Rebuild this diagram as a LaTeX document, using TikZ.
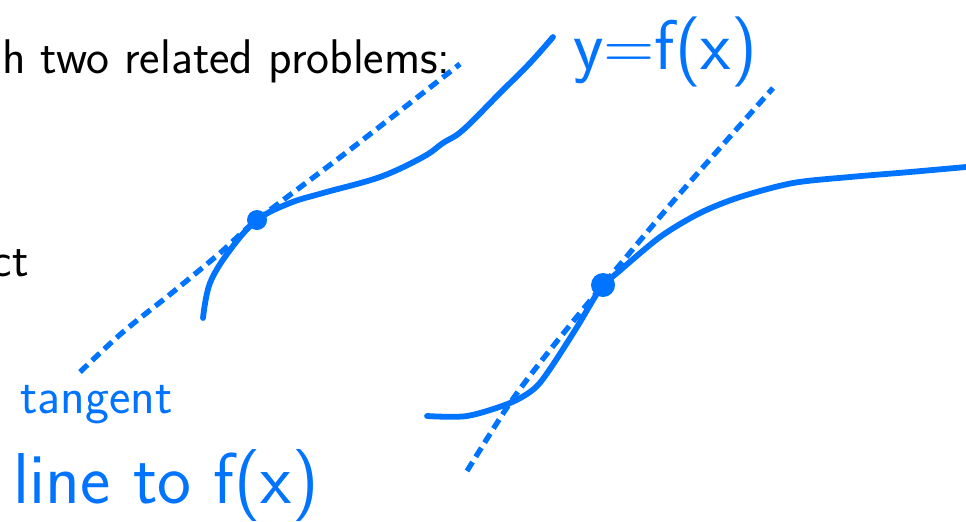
\documentclass[tikz,border=0pt]{standalone}
\usepackage{tikz}
\usetikzlibrary{positioning}
\definecolor{penblue}{RGB}{0,115,255}

\begin{document}
\begin{tikzpicture}[x=0.02cm,y=-0.02cm,
  pen/.style={penblue,line width=3.3pt,line cap=round,line join=round},
  tanline/.style={penblue,line width=3pt,dash pattern=on 6pt off 3.5pt},
  touch/.style={circle,fill=penblue,inner sep=0pt,minimum size=#1},
  slide/.style={font=\fontsize{27.7}{33}\selectfont\sffamily,inner sep=0pt},
  hand/.style={text=penblue,inner sep=0pt,font=\sffamily}]
\useasboundingbox (0,0) rectangle (966,521);
\node[slide,anchor=base east] (prob) at (451,73) {h two related problems:};
\node[slide,anchor=base east] (ct) at (29,276) {ct};
\coordinate (p1) at (257,220);
\coordinate (p2) at (603,285);
\draw[pen] plot[smooth,tension=0.6] coordinates {(203,318) (210,283) (230,250) (p1) (290,203) (323,193) (380,177) (423,157) (443,143) (463,130) (500,93) (530,63) (553,37)};
\draw[tanline] plot[smooth] coordinates {(80,372) (123,332) (173,292) (220,253) (p1) (347,152) (460,64)};
\draw[pen] plot[smooth,tension=0.5] coordinates {(427,416) (467,416) (510,403) (535,388) (552,366) (577,327) (593,300) (p2) (617,273) (660,237) (700,213) (740,197) (793,183) (850,177) (910,172) (966,167)};
\draw[tanline] plot[smooth] coordinates {(467,471) (510,403) (550,350) (p2) (670,205) (727,140) (773,88)};
\node[touch=20pt*0.02/0.03514] (dot1) at (p1) {};
\node[touch=24pt*0.02/0.03514] (dot2) at (p2) {};
\node[hand,font=\fontsize{40}{48}\selectfont\sffamily] (yfx) at (665,52) {y=f(x)};
\node[hand,font=\fontsize{29}{35}\selectfont\sffamily,anchor=base west] (tang) at (20,413) {tangent};
\node[hand,font=\fontsize{41}{48}\selectfont\sffamily,anchor=base west] (line) at (13,503) {line to f(x)};
\end{tikzpicture}
\end{document}
